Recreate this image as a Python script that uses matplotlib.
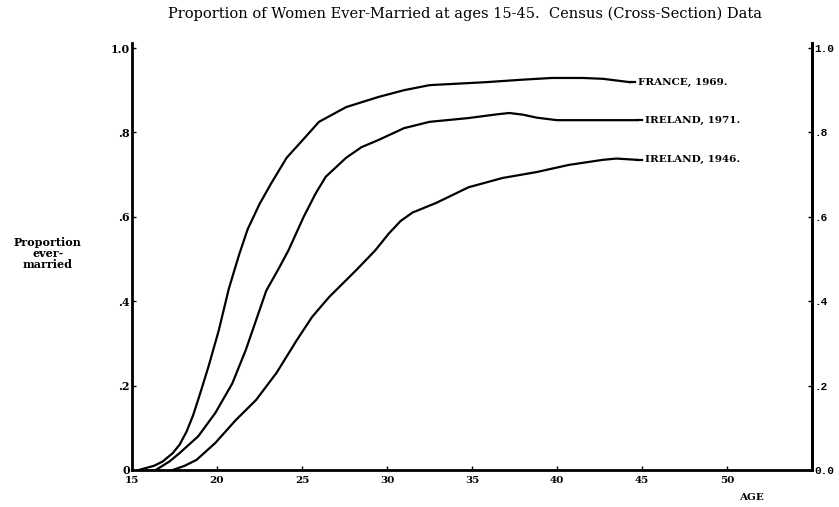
import numpy as np
import matplotlib
matplotlib.use('Agg')
import matplotlib.pyplot as plt

# values
france_age = [15.4, 16.3, 16.8, 17.4, 17.8, 18.2, 18.6, 19.0, 19.5, 20.1, 20.7, 21.3,
              21.8, 22.5, 23.2, 24.1, 25.0, 26.0, 27.6, 29.5, 31.0, 32.5, 35.8, 38.0,
              39.7, 41.5, 42.7, 44.3]
france_p = [0.0, 0.01, 0.02, 0.04, 0.06, 0.09, 0.13, 0.18, 0.245, 0.33, 0.43, 0.51,
            0.57, 0.63, 0.68, 0.74, 0.78, 0.825, 0.86, 0.884, 0.90, 0.912, 0.919, 0.925,
            0.929, 0.929, 0.927, 0.919]

ire71_age = [16.4, 17.2, 17.8, 18.9, 19.9, 20.9, 21.7, 22.3, 22.9, 23.6, 24.2, 25.1,
             25.8, 26.4, 27.6, 28.5, 29.5, 31.0, 32.5, 34.8, 36.5, 37.2, 38.0, 38.8,
             40.0, 42.7, 44.7]
ire71_p = [0.0, 0.02, 0.04, 0.08, 0.135, 0.205, 0.285, 0.355, 0.425, 0.475, 0.52, 0.60,
           0.655, 0.695, 0.74, 0.765, 0.782, 0.81, 0.825, 0.834, 0.843, 0.846, 0.842, 0.835,
           0.829, 0.829, 0.829]

ire46_age = [17.4, 18.1, 18.8, 19.9, 21.1, 22.3, 23.5, 24.7, 25.6, 26.6, 28.2, 29.3,
             30.1, 30.8, 31.5, 32.9, 34.8, 36.8, 38.8, 40.7, 42.7, 43.5, 44.7]
ire46_p = [0.0, 0.01, 0.024, 0.064, 0.118, 0.166, 0.23, 0.308, 0.363, 0.41, 0.474, 0.52,
           0.56, 0.59, 0.61, 0.633, 0.67, 0.692, 0.706, 0.723, 0.735, 0.738, 0.735]

series_labels = ['FRANCE, 1969.', 'IRELAND, 1971.', 'IRELAND, 1946.']
x_ticks = [15, 20, 25, 30, 35, 40, 45, 50]
y_ticks = [0, 0.2, 0.4, 0.6, 0.8, 1.0]
left_labels = ['0', '.2', '.4', '.6', '.8', '1.0']
right_labels = ['0.0', '.2', '.4', '.6', '.8', '1.0']

serif = 'DejaVu Serif'
mono = 'Liberation Mono'

fig = plt.figure(figsize=(8.39, 5.07), dpi=100)
ax = fig.add_axes([0.1573, 0.0730, 0.8105, 0.8423])

ax.plot(france_age, france_p, color='black', lw=1.6)
ax.plot(ire71_age, ire71_p, color='black', lw=1.6)
ax.plot(ire46_age, ire46_p, color='black', lw=1.6)

ends = [(france_age[-1], france_p[-1]), (ire71_age[-1], ire71_p[-1]), (ire46_age[-1], ire46_p[-1])]
for (xe, ye), lab in zip(ends, series_labels):
    ax.plot([xe, xe + 0.3], [ye, ye], color='black', lw=1.6)
    ax.text(xe + 0.45, ye, lab, fontsize=7.5, fontweight='bold', family=serif,
            va='center', ha='left')

ax.set_xlim(15, 55)
ax.set_ylim(0, 1.012)
ax.spines['top'].set_visible(False)
for s in ['left', 'right', 'bottom']:
    ax.spines[s].set_linewidth(2)

ax.set_xticks(x_ticks)
ax.set_xticklabels([str(t) for t in x_ticks], fontsize=7.5, fontweight='bold', family=serif)
ax.set_yticks(y_ticks)
ax.set_yticklabels(left_labels, fontsize=8, fontweight='bold', family=serif)
ax.tick_params(axis='x', direction='in', length=3, width=1, pad=4)
ax.tick_params(axis='y', direction='in', length=3, width=1, pad=1.5)

ax2 = ax.twinx()
ax2.set_ylim(ax.get_ylim())
ax2.set_yticks(y_ticks)
ax2.set_yticklabels(right_labels, fontsize=8, fontweight='bold', family=mono)
ax2.tick_params(axis='y', direction='in', length=3, width=1, pad=2)
for s in ['top', 'left', 'bottom']:
    ax2.spines[s].set_visible(False)
ax2.spines['right'].set_linewidth(2)

fig.text(0.554, 0.972, 'Proportion of Women Ever-Married at ages 15-45.  Census (Cross-Section) Data',
         ha='center', va='center', fontsize=10.5, family=serif)
fig.text(0.057, 0.50, 'Proportion\never-\nmarried', ha='center', va='center',
         fontsize=8, fontweight='bold', family=serif, linespacing=1.05)
fig.text(0.896, 0.018, 'AGE', ha='center', va='center', fontsize=7.5,
         fontweight='bold', family=serif)

fig.savefig('out.png', dpi=100)
